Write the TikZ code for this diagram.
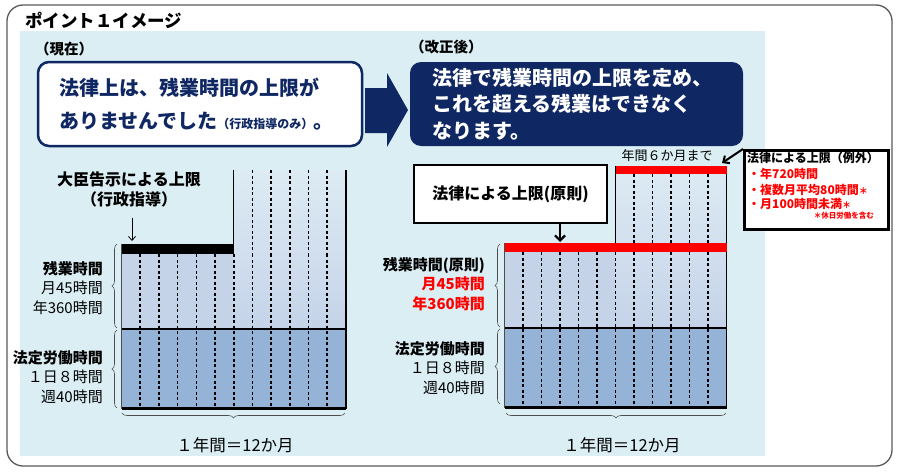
\documentclass[tikz,border=0pt]{standalone}
\usepackage{fontspec}
\setmainfont{Noto Sans CJK JP}
\usetikzlibrary{positioning,arrows.meta,decorations.pathreplacing}

\definecolor{navy}{HTML}{0F2763}
\definecolor{panelbg}{HTML}{DAEEF3}
\definecolor{tallbg}{HTML}{DDEBF4}
\definecolor{overfill}{HTML}{C5D3E9}
\definecolor{legalfill}{HTML}{95B3D7}
\definecolor{limitred}{HTML}{FF0000}

\newcommand{\fs}[2]{\fontsize{#1}{#2}\selectfont}

\tikzset{
  monthline/.style={line width=1.6pt,dash pattern=on 3pt off 2.5pt},
  edgeline/.style={line width=1.5pt},
  baseline3/.style={line width=3pt},
  chartbrace/.style={decorate,decoration={brace,amplitude=5pt},gray!60!black,line width=0.6pt},
  sidelabel/.style={anchor=east,align=right,inner sep=0pt,font=\fs{15}{19.5}},
  yearlabel/.style={inner sep=0pt,font=\fs{16.5}{18}},
  reigaitext/.style={anchor=west,inner sep=0pt,font=\fs{12}{14}\bfseries},
  pointer/.style={line width=2.2pt,-{Straight Barb[length=5pt,width=10pt]}}
}

\begin{document}
\begin{tikzpicture}[x=1pt,y=-1pt]
  \useasboundingbox (0,0) rectangle (904,474);
  % frame and panel
  \draw[gray!70!black,line width=1.3pt,rounded corners=16pt] (7,5) rectangle (892,466);
  \fill[panelbg] (20,31) rectangle (765,456);
  \node[anchor=west,inner sep=0pt,font=\fs{17.5}{20}\bfseries] (title) at (25,20) {ポイント１イメージ};
  \node[anchor=west,inner sep=0pt,font=\fs{14.5}{16}\bfseries] (nowhead) at (35,49) {（現在）};
  \node[anchor=west,inner sep=0pt,font=\fs{14.5}{16}\bfseries] (newhead) at (410,47) {（改正後）};

  % message boxes
  \node[draw=navy,line width=2.5pt,fill=white,rounded corners=11pt,
        minimum width=324pt,minimum height=84pt,inner xsep=21pt,
        text width=282pt,align=left,text=navy,font=\fs{20}{33}\bfseries] (now) at (200,104)
    {法律上は、残業時間の上限が\\ありませんでした{\fs{12}{14}（行政指導のみ）}。};
  \node[fill=navy,rounded corners=11pt,minimum width=333pt,minimum height=84pt,
        inner xsep=22pt,text width=289pt,align=left,text=white,
        font=\fs{20}{26.5}\bfseries] (new) at (576.5,104)
    {法律で残業時間の上限を定め、\\これを超える残業はできなく\\なります。};
  \fill[navy] (365,88) -- (387,88) -- (387,73) -- (408,110) -- (387,147) -- (387,133) -- (365,133) -- cycle;

  % left chart (current)
  \fill[overfill] (121.5,254) rectangle (233.7,329);
  \shade[top color=tallbg,bottom color=overfill] (233.7,170) rectangle (345.9,329);
  \fill[legalfill] (121.5,329) rectangle (345.9,409);
  \foreach \k in {1,...,11}
    \draw[monthline] (121.5+\k*18.7,254) -- (121.5+\k*18.7,409);
  \foreach \k in {7,...,11}
    \draw[monthline] (121.5+\k*18.7,170) -- (121.5+\k*18.7,254);
  \draw[gray!60!black,line width=0.6pt] (121.5,244) -- (121.5,409);
  \fill (121.5,244) rectangle (233.7,254);
  \draw[edgeline] (233.7,170) -- (233.7,254);
  \draw[edgeline] (345.9,170) -- (345.9,409);
  \draw[edgeline] (121.5,329) -- (345.9,329);
  \draw[baseline3] (121.5,408) -- (345.9,408);

  \node[align=center,inner sep=0pt,font=\fs{16}{20}\bfseries] (kokuji) at (129,189)
    {大臣告示による上限\\（行政指導）};
  \coordinate (capL) at (132,241);
  \draw[line width=0.8pt,-{Straight Barb[length=4pt,width=7pt]}] (capL |- 0,218) -- (capL);

  \draw[chartbrace] (117,328) -- (117,244);
  \draw[chartbrace] (117,408) -- (117,330);
  \draw[chartbrace] (345,413) -- (122,413);
  \node[sidelabel] (overL) at (103,288) {{\bfseries 残業時間}\\月45時間\\年360時間};
  \node[sidelabel] (legalL) at (103,377) {{\bfseries 法定労働時間}\\１日８時間\\週40時間};
  \node[yearlabel] (yearL) at (235,445) {１年間＝12か月};

  % right chart (after reform)
  \fill[overfill] (504.5,252) rectangle (615.5,328);
  \shade[top color=tallbg,bottom color=overfill] (615.5,166) rectangle (726.5,328);
  \fill[legalfill] (504.5,328) rectangle (726.5,408);
  \foreach \k in {1,...,11}
    \draw[monthline] (504.5+\k*18.5,252) -- (504.5+\k*18.5,408);
  \foreach \k in {7,...,11}
    \draw[monthline] (504.5+\k*18.5,174) -- (504.5+\k*18.5,252);
  \draw[gray!60!black,line width=0.6pt] (504.5,243) -- (504.5,408);
  \draw[edgeline] (615.5,166) -- (615.5,252);
  \draw[edgeline] (726.5,166) -- (726.5,408);
  \draw[edgeline] (504.5,328) -- (726.5,328);
  \draw[baseline3] (504.5,407) -- (726.5,407);
  \fill[limitred] (504.5,243) rectangle (727,252);
  \fill[limitred] (615.5,166) rectangle (727,174);

  \node[draw,line width=2.5pt,fill=white,minimum width=193pt,minimum height=58pt,
        font=\fs{16}{18}\bfseries] (gensoku) at (510.5,194) {法律による上限(原則)};
  \coordinate (capR) at (560,242);
  \draw[pointer] (gensoku.south -| capR) -- (capR);

  \node[inner sep=0pt,font=\fs{13}{15}] (sixmonths) at (667,156) {年間６か月まで};
  % exception box
  \node[draw,line width=3pt,fill=white,minimum width=144pt,minimum height=79pt,
        anchor=north west] (reigai) at (743,149) {};
  \node[reigaitext] (reigai0) at (747,158) {法律による上限（例外）};
  \node[reigaitext,text=limitred] (reigai1) at (748,174) {・年720時間};
  \node[reigaitext,text=limitred] (reigai2) at (748,190) {・複数月平均80時間{\fs{9}{9}＊}};
  \node[reigaitext,text=limitred] (reigai3) at (748,204) {・月100時間未満{\fs{9}{9}＊}};
  \node[anchor=east,inner sep=0pt,text=limitred,font=\fs{7.5}{9}\bfseries] (kyujitsu) at (874,216) {＊休日労働を含む};
  \coordinate (capX) at (722,163);
  \draw[line width=2pt,-{Straight Barb[length=5pt,width=9pt]}] (reigai.north west) -- (capX);

  \draw[chartbrace] (500,327) -- (500,244);
  \draw[chartbrace] (500,404) -- (500,329);
  \draw[chartbrace] (726,413) -- (506,413);
  \node[sidelabel] (overR) at (485,284)
    {{\bfseries 残業時間(原則)}\\\textcolor{limitred}{\bfseries 月45時間}\\\textcolor{limitred}{\bfseries 年360時間}};
  \node[sidelabel] (legalR) at (485,368) {{\bfseries 法定労働時間}\\１日８時間\\週40時間};
  \node[yearlabel] (yearR) at (622,445) {１年間＝12か月};
\end{tikzpicture}
\end{document}
